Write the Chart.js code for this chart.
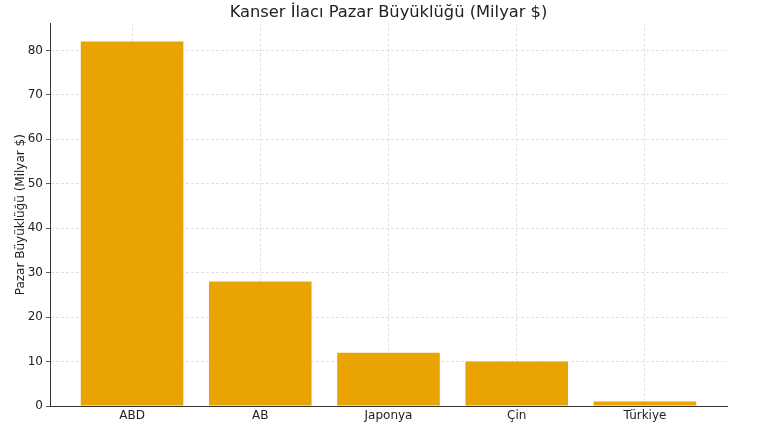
<!DOCTYPE html>
<html>
<head>
<meta charset="utf-8">
<script src="https://cdn.jsdelivr.net/npm/chart.js@4.4.1/dist/chart.umd.min.js"></script>
<style>
  html, body { margin: 0; padding: 0; background: #fff; }
  #wrap { width: 765px; height: 428px; }
</style>
</head>
<body>
<div id="wrap"><canvas id="myChart"></canvas></div>
<script>
const countries = ['ABD', 'AB', 'Japonya', 'Çin', 'Türkiye'];
const marketSize = [82, 28, 12, 10, 1];
const yTicks = [0, 10, 20, 30, 40, 50, 60, 70, 80];

const gridColor = 'rgba(170,170,170,0.45)';
const axisColor = '#333';

const ctx = document.getElementById('myChart').getContext('2d');
const chartInstance = new Chart(ctx, {
    type: 'bar',
    data: {
        datasets: [{
            label: 'Pazar Büyüklüğü',
            data: marketSize.map((v, i) => ({ x: i, y: v })),
            backgroundColor: '#E9A302',
            borderWidth: 0,
            barPercentage: 0.8,
            categoryPercentage: 1
        }]
    },
    options: {
        responsive: true,
        maintainAspectRatio: false,
        animation: false,
        layout: { padding: { top: 3, right: 38, bottom: 0, left: 0 } },
        plugins: {
            legend: { display: false },
            tooltip: { enabled: false },
            title: {
                display: true,
                fullSize: false,
                text: 'Kanser İlacı Pazar Büyüklüğü (Milyar $)',
                color: '#222',
                font: { family: 'DejaVu Sans', size: 16.3, weight: 'normal', lineHeight: 1.25 },
                padding: { top: 0, bottom: 0 }
            }
        },
        scales: {
            x: {
                type: 'linear',
                min: -0.64,
                max: 4.64,
                offset: false,
                z: 1,
                afterBuildTicks: axis => {
                    axis.ticks = countries.map((_, i) => ({ value: i }));
                },
                afterFit: scale => { scale.height = 22; },
                ticks: {
                    callback: value => countries[value] ?? '',
                    color: '#222',
                    font: { family: 'DejaVu Sans', size: 12 },
                    padding: 3,
                    maxRotation: 0,
                    autoSkip: false
                },
                grid: {
                    offset: false,
                    color: gridColor,
                    lineWidth: 0.8,
                    drawTicks: false
                },
                border: { display: true, color: axisColor, width: 1, dash: [3, 2] }
            },
            y: {
                min: 0,
                max: 86.1,
                z: 1,
                afterBuildTicks: axis => {
                    axis.ticks = yTicks.map(v => ({ value: v }));
                },
                afterFit: scale => { scale.width = 50; },
                ticks: {
                    color: '#222',
                    font: { family: 'DejaVu Sans', size: 12 },
                    padding: 3
                },
                grid: {
                    color: gridColor,
                    lineWidth: 0.8,
                    tickColor: axisColor,
                    tickLength: 4,
                    tickBorderDash: []
                },
                border: { display: true, color: axisColor, width: 1, dash: [3, 2] },
                title: {
                    display: true,
                    text: 'Pazar Büyüklüğü (Milyar $)',
                    color: '#222',
                    font: { family: 'DejaVu Sans', size: 12 },
                    padding: { top: 14, bottom: 0 }
                }
            }
        }
    }
});
</script>
</body>
</html>
